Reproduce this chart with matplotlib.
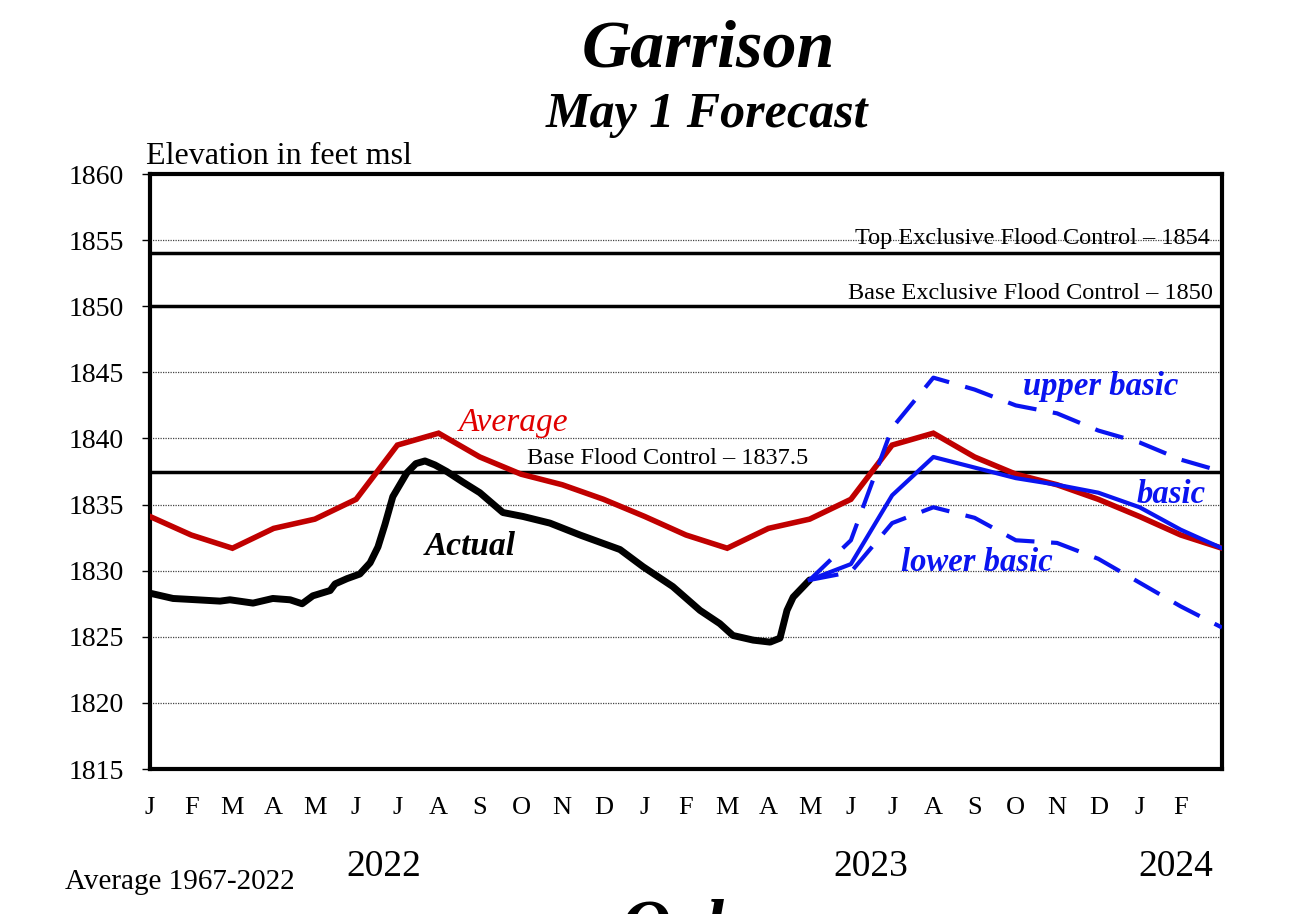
import matplotlib
matplotlib.use("Agg")
import matplotlib.pyplot as plt
import numpy as np

# ---------------- data ----------------
month_labels = ["J", "F", "M", "A", "M", "J", "J", "A", "S", "O", "N", "D",
                "J", "F", "M", "A", "M", "J", "J", "A", "S", "O", "N", "D",
                "J", "F"]
years = ["2022", "2023", "2024"]

# Average (monthly, start of month), Jan 2022 .. Mar 2024
avg_months = list(range(0, 27))
avg_year = [1834.1, 1832.7, 1831.7, 1833.2, 1833.9, 1835.4,
            1839.5, 1840.4, 1838.6, 1837.3, 1836.5, 1835.4]
avg_values = avg_year + avg_year + avg_year[:3]

# Actual (months since Jan 1 2022)
act_months = [0.0, 0.56, 1.14, 1.70, 1.94, 2.50, 2.98, 3.40, 3.69, 3.95,
              4.37, 4.49, 4.78, 5.09, 5.34, 5.53, 5.70, 5.89, 6.23, 6.45,
              6.67, 6.91, 7.20, 7.59, 8.00, 8.56, 9.05, 9.70, 10.43, 11.40,
              11.96, 12.68, 13.34, 13.82, 14.14, 14.63, 15.04, 15.28, 15.45,
              15.60, 16.0]
act_values = [1828.3, 1827.9, 1827.8, 1827.7, 1827.8, 1827.55, 1827.9,
              1827.8, 1827.5, 1828.1, 1828.5, 1829.0, 1829.4, 1829.75,
              1830.6, 1831.8, 1833.5, 1835.6, 1837.4, 1838.1, 1838.3,
              1838.0, 1837.5, 1836.7, 1835.9, 1834.4, 1834.1, 1833.6,
              1832.7, 1831.6, 1830.3, 1828.8, 1827.0, 1826.0, 1825.1,
              1824.75, 1824.6, 1824.9, 1827.0, 1828.0, 1829.3]

# Forecasts, May 1 2023 .. Mar 1 2024
fc_months = list(range(16, 27))
basic_values = [1829.3, 1830.5, 1835.7, 1838.6, 1837.8, 1837.0, 1836.5,
                1835.9, 1834.8, 1833.1, 1831.7]
upper_values = [1829.3, 1832.3, 1840.8, 1844.6, 1843.7, 1842.5, 1841.9,
                1840.6, 1839.7, 1838.4, 1837.5]
lower_values = [1829.3, 1829.9, 1833.6, 1834.8, 1834.0, 1832.3, 1832.1,
                1830.9, 1829.1, 1827.3, 1825.7]

flood_levels = [1854, 1850, 1837.5]
flood_labels = ["Top Exclusive Flood Control \u2013 1854",
                "Base Exclusive Flood Control \u2013 1850",
                "Base Flood Control \u2013 1837.5"]

# ---------------- plot ----------------
plt.rcParams['font.family'] = ['Liberation Serif', 'DejaVu Serif']

fig = plt.figure(figsize=(13.04, 9.14), dpi=100)
ax = fig.add_axes([0.1150, 0.1586, 0.8221, 0.6510])
ax.set_xlim(0, 26)
ax.set_ylim(1815, 1860)

for gy in range(1820, 1860, 5):
    ax.axhline(gy, color="#444444", lw=0.9, ls=(0, (1, 1)), zorder=1)

for lvl in flood_levels:
    ax.axhline(lvl, color="black", lw=2.5, zorder=2)

ax.plot(avg_months, avg_values, color="#c00000", lw=4, zorder=4,
        solid_joinstyle="miter")
ax.plot(act_months, act_values, color="black", lw=5, zorder=5,
        solid_capstyle="round", solid_joinstyle="round")
ax.plot(fc_months, basic_values, color="#0a14f0", lw=3, zorder=6)
ax.plot(fc_months, upper_values, color="#0a14f0", lw=3, ls=(0, (7, 4)), zorder=6)
ax.plot(fc_months, lower_values, color="#0a14f0", lw=3, ls=(0, (7, 4)), zorder=6)

# labels for flood control lines
ax.text(25.7, 1855.15, flood_labels[0], ha="right", va="center", fontsize=17.5)
ax.text(25.78, 1850.95, flood_labels[1], ha="right", va="center", fontsize=17.5)
ax.text(15.97, 1838.45, flood_labels[2], ha="right", va="center", fontsize=17.5)

# series labels
ax.text(7.48, 1841.2, "Average", color="#e00000", fontsize=24, style="italic",
        ha="left", va="center")
ax.text(6.66, 1831.8, "Actual", color="black", fontsize=24, style="italic",
        weight="bold", ha="left", va="center")
ax.text(21.17, 1843.9, "upper basic", color="#0a14f0", fontsize=23.5,
        style="italic", weight="bold", ha="left", va="center")
ax.text(23.92, 1835.75, "basic", color="#0a14f0", fontsize=23.5, style="italic",
        weight="bold", ha="left", va="center")
ax.text(18.22, 1830.6, "lower basic", color="#0a14f0", fontsize=23.5,
        style="italic", weight="bold", ha="left", va="center")

ax.set_xticks(range(len(month_labels)))
ax.set_xticklabels(month_labels, fontsize=19)
ax.tick_params(axis="x", length=0, pad=20)
ax.set_yticks(range(1815, 1861, 5))
ax.set_yticklabels([str(v) for v in range(1815, 1861, 5)], fontsize=20)
ax.tick_params(axis="y", length=6, width=1, direction="out", pad=13)

for s in ax.spines.values():
    s.set_linewidth(3)

# texts in figure coords
fig.text(0.543, 0.945, "Garrison", ha="center", va="center", fontsize=49,
         style="italic", weight="bold")
fig.text(0.542, 0.874, "May 1 Forecast", ha="center", va="center", fontsize=36,
         style="italic", weight="bold")
fig.text(0.112, 0.829, "Elevation in feet msl", ha="left", va="center",
         fontsize=23)
fig.text(0.294, 0.052, years[0], ha="center", va="center", fontsize=27)
fig.text(0.668, 0.052, years[1], ha="center", va="center", fontsize=27)
fig.text(0.902, 0.052, years[2], ha="center", va="center", fontsize=27)
fig.text(0.050, 0.035, "Average 1967-2022", ha="left", va="center",
         fontsize=21)
fig.text(0.535, -0.018, "Oahe", ha="center", va="center", fontsize=50,
         style="italic", weight="bold")

fig.savefig("out.png", dpi=100)
